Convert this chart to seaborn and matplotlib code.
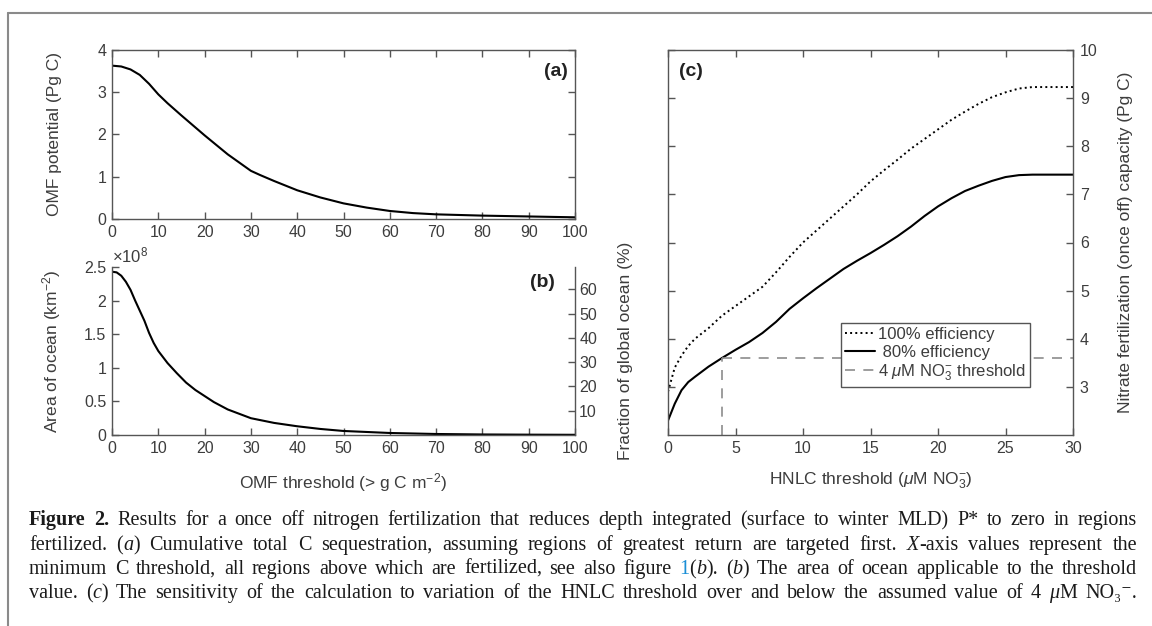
import numpy as np
import matplotlib
matplotlib.use("Agg")
import matplotlib.pyplot as plt
import seaborn as sns
from matplotlib.lines import Line2D
from matplotlib.ticker import FuncFormatter

# (a) cumulative OMF potential vs minimum C threshold
omf_threshold = [0, 2, 4, 6, 8, 10, 12, 15, 20, 25, 30, 32, 35, 40, 45, 50, 55, 60, 65, 70, 80, 90, 100]
omf_potential = [3.63, 3.61, 3.54, 3.41, 3.2, 2.95, 2.74, 2.45, 1.98, 1.53, 1.14, 1.04, 0.9, 0.68,
                 0.51, 0.37, 0.27, 0.19, 0.14, 0.11, 0.08, 0.06, 0.04]

# (b) ocean area above threshold, in units of 1e8 km2
area_threshold = [0, 1, 2, 3, 4, 5, 6, 7, 8, 9, 10, 12, 14, 16, 18, 20, 22, 25, 30, 35, 40, 45, 50,
                  55, 60, 70, 80, 90, 100]
ocean_area = [2.43, 2.42, 2.37, 2.28, 2.16, 2.0, 1.85, 1.7, 1.52, 1.37, 1.25, 1.07, 0.92, 0.78,
              0.67, 0.58, 0.49, 0.38, 0.25, 0.18, 0.13, 0.09, 0.06, 0.045, 0.03, 0.015, 0.008,
              0.005, 0.003]
global_ocean_area = 3.61

# (c) nitrate fertilization capacity vs HNLC threshold
hnlc_threshold = [0, 0.5, 1, 1.5, 2, 3, 4, 5, 6, 7, 8, 9, 10, 11, 12, 13, 14, 15, 16, 17, 18, 19,
                  20, 21, 22, 23, 24, 25, 26, 27, 28, 29, 30]
capacity_100 = [2.9, 3.4, 3.65, 3.85, 4.0, 4.22, 4.48, 4.68, 4.88, 5.08, 5.38, 5.7, 6.0, 6.25, 6.5,
                6.75, 7.0, 7.27, 7.5, 7.72, 7.95, 8.15, 8.35, 8.55, 8.72, 8.88, 9.02, 9.12, 9.2,
                9.23, 9.23, 9.23, 9.23]
capacity_80 = [2.3, 2.65, 2.93, 3.1, 3.21, 3.42, 3.6, 3.77, 3.93, 4.12, 4.35, 4.62, 4.84, 5.05, 5.25,
               5.45, 5.62, 5.78, 5.95, 6.13, 6.33, 6.55, 6.75, 6.92, 7.07, 7.18, 7.28, 7.36, 7.4,
               7.41, 7.41, 7.41, 7.41]
no3_threshold = 4
capacity_at_threshold = 3.6

caption_lines = [
    "#Figure# #2.# Results for a once off nitrogen fertilization that reduces depth integrated (surface to winter MLD) P* to zero in regions",
    "fertilized. (_a_) Cumulative total C sequestration, assuming regions of greatest return are targeted first. _X_-axis values represent the",
    "minimum C threshold, all regions above which are fertilized, see also figure @1@(_b_). (_b_) The area of ocean applicable to the threshold",
    "value. (_c_) The sensitivity of the calculation to variation of the HNLC threshold over and below the assumed value of 4 _\u03bc_M NO\u2083\u207b.",
]

sns.set_style("ticks")
plt.rcParams['font.family'] = ['Liberation Sans', 'DejaVu Sans']
plt.rcParams['mathtext.fontset'] = 'custom'
plt.rcParams['mathtext.rm'] = 'Liberation Sans'
plt.rcParams['mathtext.it'] = 'Liberation Sans:italic'
plt.rcParams['mathtext.bf'] = 'Liberation Sans:bold'
plt.rcParams['xtick.direction'] = 'in'
plt.rcParams['ytick.direction'] = 'in'

TXT = '#3d3d3d'
SPINE = '#555555'
TICK_FS = 11.5
LABEL_FS = 12.5
W, H = 1152, 626
fig = plt.figure(figsize=(W / 100, H / 100), dpi=100)


def rect(x0, y0, x1, y1):
    return [x0 / W, 1 - y1 / H, (x1 - x0) / W, (y1 - y0) / H]


def style(ax):
    for s in ax.spines.values():
        s.set_color(SPINE)
        s.set_linewidth(1.0)
    ax.tick_params(colors=SPINE, labelcolor=TXT, labelsize=TICK_FS, length=5, width=1.0, pad=4)


g = lambda v, pos: f"{v:g}"

# ---- (a)
ax_a = fig.add_axes(rect(112, 50, 575, 219))
sns.lineplot(x=omf_threshold, y=omf_potential, ax=ax_a, color='black', linewidth=1.5)
ax_a.set_xlim(0, 100)
ax_a.set_ylim(0, 4)
ax_a.set_xticks(range(0, 101, 10))
ax_a.set_yticks(range(0, 5))
style(ax_a)
ax_a.tick_params(top=True, right=True)
ax_a.set_ylabel("OMF potential (Pg C)", fontsize=LABEL_FS, color=TXT)
ax_a.yaxis.set_label_coords(-0.108, 0.5)
ax_a.text(0.985, 0.87, "(a)", transform=ax_a.transAxes, ha='right', va='center',
          fontsize=14, fontweight='bold', color='#222222')

# ---- (b)
ax_b = fig.add_axes(rect(112, 267, 575, 435))
sns.lineplot(x=area_threshold, y=ocean_area, ax=ax_b, color='black', linewidth=1.5)
ax_b.set_xlim(0, 100)
ax_b.set_ylim(0, 2.5)
ax_b.set_xticks(range(0, 101, 10))
ax_b.set_yticks(np.arange(0, 2.51, 0.5))
ax_b.yaxis.set_major_formatter(FuncFormatter(g))
style(ax_b)
ax_b.spines['top'].set_visible(False)
ax_b.spines['right'].set_visible(False)
ax_b.set_ylabel(r"Area of ocean (km$^{-2}$)", fontsize=LABEL_FS, color=TXT)
ax_b.yaxis.set_label_coords(-0.106, 0.5)
ax_b.set_xlabel(r"OMF threshold (> g C m$^{-2}$)", fontsize=LABEL_FS, color=TXT)
ax_b.xaxis.set_label_coords(0.5, -0.215)
ax_b.text(0.0, 1.01, r"$\times10^{8}$", transform=ax_b.transAxes, ha='left', va='bottom',
          fontsize=12, color=TXT)
ax_b.text(0.957, 0.91, "(b)", transform=ax_b.transAxes, ha='right', va='center',
          fontsize=14, fontweight='bold', color='#222222')

ax_b2 = ax_b.twinx()
ax_b2.set_ylim(0, 2.5 / global_ocean_area * 100)
ax_b2.set_yticks(range(10, 61, 10))
style(ax_b2)
for s in ['top', 'left', 'bottom']:
    ax_b2.spines[s].set_visible(False)
ax_b2.tick_params(pad=3)
ax_b2.set_ylabel("Fraction of global ocean (%)", fontsize=LABEL_FS, color=TXT)
ax_b2.yaxis.set_label_coords(1.093, 0.5)

# ---- (c)
ax_c = fig.add_axes(rect(668, 50, 1073, 435))
sns.lineplot(x=hnlc_threshold, y=capacity_100, ax=ax_c, color='black', linewidth=1.4, linestyle=':')
sns.lineplot(x=hnlc_threshold, y=capacity_80, ax=ax_c, color='black', linewidth=1.5)
ax_c.plot([no3_threshold, 30], [capacity_at_threshold, capacity_at_threshold],
          color='#8c8c8c', linewidth=1.2, linestyle=(0, (6, 5)))
ax_c.plot([no3_threshold, no3_threshold], [2, capacity_at_threshold],
          color='#8c8c8c', linewidth=1.2, linestyle=(0, (6, 5)))
ax_c.set_xlim(0, 30)
ax_c.set_ylim(2, 10)
ax_c.set_xticks(range(0, 31, 5))
ax_c.set_yticks(range(3, 11))
style(ax_c)
ax_c.yaxis.tick_right()
ax_c.yaxis.set_label_position('right')
ax_c.tick_params(top=True, left=True, right=True, labelleft=False, labelright=True)
ax_c.tick_params(axis='y', pad=5)
ax_c.set_ylabel("Nitrate fertilization (once off) capacity (Pg C)", fontsize=LABEL_FS, color=TXT)
ax_c.yaxis.set_label_coords(1.112, 0.5)
ax_c.set_xlabel(r"HNLC threshold ($\mu$M NO$_3^{-}$)", fontsize=LABEL_FS, color=TXT)
ax_c.xaxis.set_label_coords(0.5, -0.092)
ax_c.text(0.027, 0.943, "(c)", transform=ax_c.transAxes, ha='left', va='center',
          fontsize=14, fontweight='bold', color='#222222')

handles = [Line2D([], [], color='black', lw=1.4, ls=':'),
           Line2D([], [], color='black', lw=1.5),
           Line2D([], [], color='#8c8c8c', lw=1.2, ls=(0, (6, 5)))]
labels = ["100% efficiency", " 80% efficiency", r"4 $\mu$M NO$_3^{-}$ threshold"]
leg = ax_c.legend(handles, labels, loc='upper left', bbox_to_anchor=(0.427, 0.291),
                  fontsize=12, frameon=True, fancybox=False, framealpha=1, edgecolor=SPINE,
                  borderpad=0.25, handlelength=1.8, handletextpad=0.15, labelspacing=0.15,
                  borderaxespad=0)
leg.get_frame().set_linewidth(1.0)
for t in leg.get_texts():
    t.set_color(TXT)

# ---- page frame
fig.add_artist(Line2D([8 / W, 8 / W], [0, 1 - 13 / H], transform=fig.transFigure,
                      color='#8a8a8a', lw=1.5))
fig.add_artist(Line2D([8 / W, 1], [1 - 13 / H, 1 - 13 / H], transform=fig.transFigure,
                      color='#8a8a8a', lw=1.5))


# ---- caption, justified word by word
def runs_of(word):
    runs, buf = [], ""
    st = {"it": False, "bf": False, "link": False}
    keys = {"_": "it", "#": "bf", "@": "link"}
    for ch in word:
        if ch in keys:
            if buf:
                runs.append((buf, dict(st)))
                buf = ""
            st[keys[ch]] = not st[keys[ch]]
        else:
            buf += ch
    if buf:
        runs.append((buf, dict(st)))
    return runs


fig.canvas.draw()
renderer = fig.canvas.get_renderer()
serif = ['Liberation Serif', 'DejaVu Serif']
x_left, x_right = 29, 1137
baselines = [525, 550, 574, 598]
for line, yb in zip(caption_lines, baselines):
    words = [runs_of(w) for w in line.split(" ")]
    arts = []
    for w in words:
        wa = []
        for txt, st in w:
            t = fig.text(0, 1 - yb / H, txt, fontsize=14.5, family=serif, va='baseline',
                         fontstyle='italic' if st['it'] else 'normal',
                         fontweight='bold' if st['bf'] else 'normal',
                         color='#1a8fd6' if st['link'] else '#1a1a1a')
            wa.append(t)
        arts.append(wa)
    widths = [[t.get_window_extent(renderer).width for t in wa] for wa in arts]
    total = sum(sum(ws) for ws in widths)
    gap = (x_right - x_left - total) / (len(words) - 1)
    x = x_left
    for wa, ws in zip(arts, widths):
        for t, wd in zip(wa, ws):
            t.set_x(x / W)
            x += wd
        x += gap

fig.savefig("out.png", dpi=100)
